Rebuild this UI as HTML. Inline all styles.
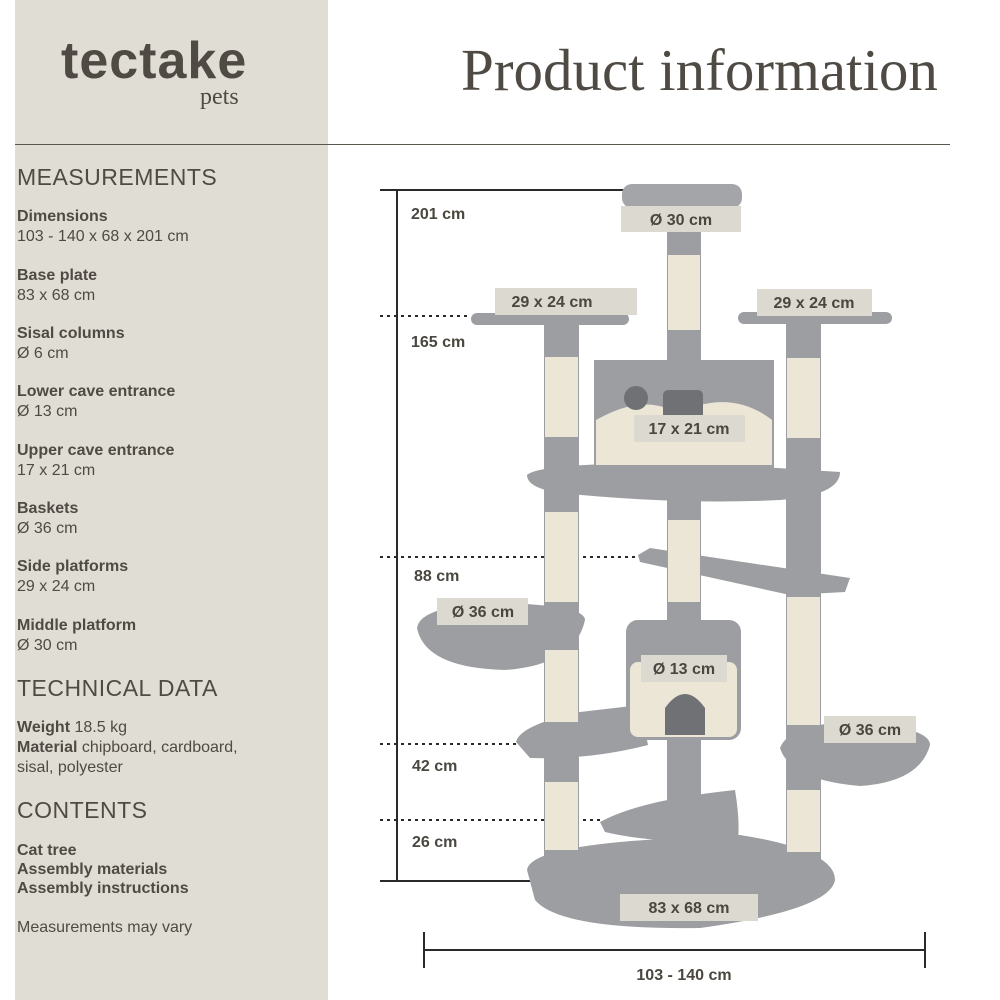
<!DOCTYPE html>
<html><head><style>
body{margin:0;width:1000px;height:1000px;background:#fff;position:relative;overflow:hidden;font-family:"Liberation Sans",sans-serif;color:#4a4740}
.panel{position:absolute;left:15px;top:0;width:313px;height:1000px;background:#e0ddd5}
.t{position:absolute;left:17px;white-space:nowrap}
.h{font-size:23px;font-weight:300;color:#4f4b44;letter-spacing:0.5px}
.b{font-size:16px;font-weight:bold;color:#4f4b44}
.n{font-size:16px;color:#4f4b44}
</style></head><body>
<div class="panel"></div>
<div style="position:absolute;left:61px;top:31px;font-size:52px;font-weight:bold;color:#4f4b44;letter-spacing:1px">tectake</div>
<div style="position:absolute;left:200px;top:84px;font-size:24px;font-family:'Liberation Serif',serif;color:#4f4b44">pets</div>
<div style="position:absolute;left:461px;top:36px;font-size:59px;font-family:'Liberation Serif',serif;color:#4f4b44">Product information</div>
<div style="position:absolute;left:15px;top:144px;width:935px;height:1px;background:#5a574f"></div>

<div class="t h" style="top:164px">MEASUREMENTS</div>
<div class="t b" style="top:208px">Dimensions</div><div class="t n" style="top:228px">103 - 140 x 68 x 201 cm</div>
<div class="t b" style="top:267px">Base plate</div><div class="t n" style="top:287px">83 x 68 cm</div>
<div class="t b" style="top:325px">Sisal columns</div><div class="t n" style="top:345px">Ø 6 cm</div>
<div class="t b" style="top:383px">Lower cave entrance</div><div class="t n" style="top:403px">Ø 13 cm</div>
<div class="t b" style="top:442px">Upper cave entrance</div><div class="t n" style="top:462px">17 x 21 cm</div>
<div class="t b" style="top:500px">Baskets</div><div class="t n" style="top:520px">Ø 36 cm</div>
<div class="t b" style="top:558px">Side platforms</div><div class="t n" style="top:578px">29 x 24 cm</div>
<div class="t b" style="top:617px">Middle platform</div><div class="t n" style="top:637px">Ø 30 cm</div>
<div class="t h" style="top:675px">TECHNICAL DATA</div>
<div class="t n" style="top:719px"><b>Weight</b> 18.5 kg</div>
<div class="t n" style="top:739px"><b>Material</b> chipboard, cardboard,</div>
<div class="t n" style="top:759px">sisal, polyester</div>
<div class="t h" style="top:797px">CONTENTS</div>
<div class="t b" style="top:842px">Cat tree</div>
<div class="t b" style="top:861px">Assembly materials</div>
<div class="t b" style="top:880px">Assembly instructions</div>
<div class="t n" style="top:919px">Measurements may vary</div>

<svg style="position:absolute;left:0;top:0" width="1000" height="1000">
<g stroke="#2a2a2a" stroke-width="2" fill="none">
<line x1="380" y1="190" x2="650" y2="190"/><line x1="397" y1="190" x2="397" y2="881"/><line x1="380" y1="881" x2="530" y2="881"/>
<line x1="424" y1="950" x2="925" y2="950"/><line x1="424" y1="932" x2="424" y2="968"/><line x1="925" y1="932" x2="925" y2="968"/>
</g>
<g stroke="#2a2a2a" stroke-width="2" stroke-dasharray="3,4">
<line x1="380" y1="316" x2="470" y2="316"/><line x1="380" y1="557" x2="640" y2="557"/><line x1="380" y1="744" x2="520" y2="744"/><line x1="380" y1="820" x2="600" y2="820"/>
</g>
<g fill="#9c9ea1">
<path d="M527 870 Q530 845 680 838 L740 835 Q835 850 835 880 Q830 910 700 928 Q560 930 535 900 Z"/>
<rect x="544" y="320" width="35" height="560"/><rect x="786" y="320" width="35" height="560"/>
<rect x="667" y="232" width="34" height="130"/><rect x="667" y="495" width="34" height="130"/><rect x="667" y="735" width="34" height="150"/>
<rect x="622" y="184" width="120" height="24" rx="10" fill="#a3a5a8"/>
<rect x="471" y="313" width="158" height="12" rx="6"/><rect x="738" y="312" width="154" height="12" rx="6"/>
<rect x="594" y="360" width="180" height="108"/>
<path d="M527 475 Q540 462 700 463 L840 472 Q840 495 780 500 Q680 505 560 493 Q527 488 527 475Z"/>
<path d="M638 555 L650 548 L850 578 L845 592 L790 595 L640 562Z"/>
<path d="M417 628 Q420 605 500 603 Q585 605 585 620 Q575 665 505 670 Q425 668 417 628Z"/>
<path d="M516 742 Q520 725 580 712 L640 705 L648 745 Q590 760 530 758 Z"/>
<rect x="626" y="620" width="115" height="120" rx="12"/>
<path d="M780 748 Q790 722 860 722 Q930 728 930 745 Q920 782 860 786 Q790 780 780 748Z"/>
<path d="M600 822 Q640 800 735 790 Q740 820 738 840 Q660 845 605 832Z"/>
</g>
<g fill="#ece6d6">
<rect x="668" y="255" width="32" height="75"/>
<rect x="545" y="357" width="33" height="80"/><rect x="787" y="358" width="33" height="80"/>
<rect x="545" y="512" width="33" height="90"/><rect x="545" y="650" width="33" height="72"/><rect x="545" y="782" width="33" height="68"/>
<rect x="668" y="520" width="32" height="82"/>
<rect x="787" y="597" width="33" height="128"/><rect x="787" y="790" width="33" height="62"/>
<path d="M596 420 Q640 395 670 410 L700 405 Q740 395 772 420 L772 465 L596 465Z"/>
<rect x="630" y="662" width="107" height="75" rx="8"/>
</g>
<g fill="#6f7174">
<rect x="663" y="390" width="40" height="45" rx="5"/><circle cx="636" cy="398" r="12"/><path d="M665 708 Q685 680 705 708 L705 735 L665 735Z"/>
</g>
<g fill="#dcd9d0">
<rect x="621" y="206" width="120" height="26"/><rect x="495" y="288" width="142" height="27"/><rect x="757" y="289" width="115" height="27"/>
<rect x="634" y="415" width="111" height="27"/><rect x="437" y="598" width="91" height="27"/><rect x="641" y="655" width="86" height="27"/>
<rect x="824" y="716" width="92" height="27"/><rect x="620" y="894" width="138" height="27"/>
</g>
<g font-family="Liberation Sans,sans-serif" font-size="16" font-weight="bold" fill="#4a4740" text-anchor="middle">
<text x="681" y="225">Ø 30 cm</text><text x="552" y="307">29 x 24 cm</text><text x="814" y="308">29 x 24 cm</text>
<text x="689" y="434">17 x 21 cm</text><text x="483" y="617">Ø 36 cm</text><text x="684" y="674">Ø 13 cm</text>
<text x="870" y="735">Ø 36 cm</text><text x="689" y="913">83 x 68 cm</text><text x="684" y="980">103 - 140 cm</text>
</g>
<g font-family="Liberation Sans,sans-serif" font-size="16" font-weight="bold" fill="#4a4740">
<text x="411" y="219">201 cm</text><text x="411" y="347">165 cm</text><text x="414" y="581">88 cm</text><text x="412" y="771">42 cm</text><text x="412" y="847">26 cm</text>
</g>
</svg>
</body></html>
